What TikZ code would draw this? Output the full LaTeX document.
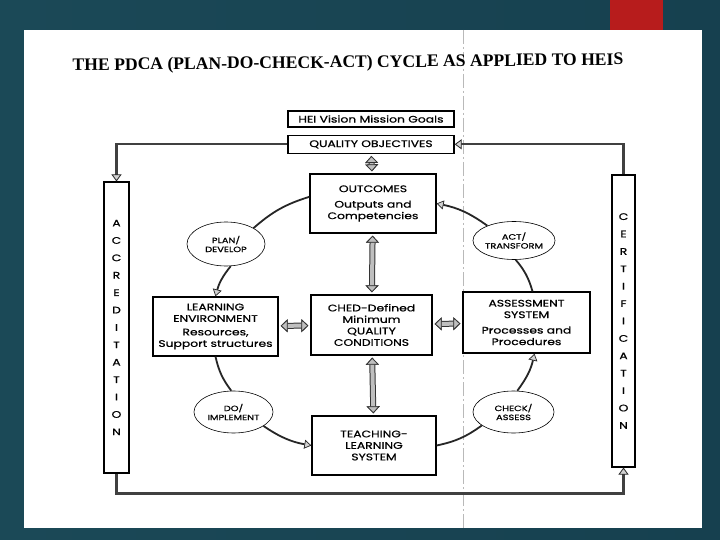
\documentclass[tikz,border=0pt]{standalone}
\usepackage{fontspec}
\setmainfont{Poppins}
\newfontfamily\diagfont[FakeStretch=1.3, FakeBold=0.8]{Poppins}
\newfontfamily\titlefont{Liberation Serif}
\usepackage{tikz}
\usetikzlibrary{arrows.meta, positioning, shapes.geometric}

\definecolor{slideleft}{HTML}{1B4957}
\definecolor{slidemid}{HTML}{2A6163}
\definecolor{slideright}{HTML}{16404F}
\definecolor{slidered}{HTML}{B71C1C}

\tikzset{
  box/.style={draw, line width=1.3pt, align=center, inner sep=1pt,
    font=\diagfont\fontsize{9.5}{11.5}\selectfont},
  oval/.style={ellipse, draw, line width=0.6pt, align=center, inner sep=0pt,
    font=\diagfont\fontsize{7.6}{9}\selectfont},
  letterbar/.style={draw, line width=1.1pt, align=center, inner sep=0pt,
    font=\diagfont\fontsize{9.5}{17.4}\selectfont},
  loopline/.style={line width=2.4pt, draw=black!75,
    -{Triangle[width=10pt,length=7pt,color=black!85,fill=gray!35,line width=0.8pt]}},
  cycleline/.style={line width=1.8pt, draw=black!85, bend right=12},
  cyclearrow/.style={cycleline,
    -{Triangle[width=9pt,length=7pt,color=black!85,fill=gray!35,line width=0.7pt]}},
  fatarrow/.style={line width=4pt, draw=gray!50, shorten >=2pt, shorten <=2pt,
    preaction={draw=black!80, line width=6pt},
    {Triangle[width=13pt,length=7pt,color=black!80,fill=gray!50,line width=0.8pt]}-{Triangle[width=13pt,length=7pt,color=black!80,fill=gray!50,line width=0.8pt]}},
  foldline/.style={draw=gray!55, line width=0.6pt, dash pattern=on 14pt off 3pt on 2pt off 3pt}
}

\begin{document}
\begin{tikzpicture}[x=1pt, y=-1pt]
  % slide
  \shade[left color=slideleft, middle color=slidemid, right color=slideright] (0,0) rectangle (720,540);
  \fill[slidered] (610,0) rectangle (663,30);
  \fill[white] (24,30) rectangle (702,528);
  \useasboundingbox (0,0) rectangle (720,540);
  \draw[foldline] (463,30) -- (463,528);

  \node[font=\titlefont\bfseries\fontsize{17.6}{19}\selectfont, rotate=0.6] (title) at (348,63.5)
    {THE PDCA (PLAN-DO-CHECK-ACT) CYCLE AS APPLIED TO HEIS};

  % top boxes
  \node[box, minimum width=166, minimum height=16] (hei) at (371,119) {HEI Vision Mission Goals};
  \node[box, minimum width=166, minimum height=18, below=7pt of hei] (qo) {QUALITY OBJECTIVES};

  % cycle boxes
  \node[box, minimum width=126, minimum height=59] (out) at (373,203.5)
    {OUTCOMES\\[4pt]Outputs and\\Competencies};
  \node[box, minimum width=125, minimum height=59] (le) at (215.5,326.5)
    {LEARNING\\ENVIRONMENT\\[2pt]Resources,\\Support structures};
  \node[box, minimum width=121, minimum height=60] (ched) at (371.5,325)
    {CHED-Defined\\Minimum\\QUALITY\\CONDITIONS};
  \node[box, minimum width=127, minimum height=61] (asys) at (526.5,322.5)
    {ASSESSMENT\\SYSTEM\\[4pt]Processes and\\Procedures};
  \node[box, minimum width=124, minimum height=59] (tls) at (374,445.5)
    {TEACHING-\\LEARNING\\SYSTEM};

  % ovals
  \node[oval, minimum width=78, minimum height=44] (plan) at (226,244) {PLAN/\\DEVELOP};
  \node[oval, minimum width=82, minimum height=38] (act) at (514,240.5) {ACT/\\TRANSFORM};
  \node[oval, minimum width=79, minimum height=42] (do) at (233.5,412) {DO/\\IMPLEMENT};
  \node[oval, minimum width=81, minimum height=42] (check) at (513.5,412) {CHECK/\\ASSESS};

  % side bars
  \node[letterbar, minimum width=25, minimum height=291] (accr) at (116.5,327.5)
    {A\\C\\C\\R\\E\\D\\I\\T\\A\\T\\I\\O\\N};
  \node[letterbar, minimum width=23, minimum height=292] (cert) at (623.5,321)
    {C\\E\\R\\T\\I\\F\\I\\C\\A\\T\\I\\O\\N};

  % outer loop
  \draw[loopline] (qo.west) -| (accr.north);
  \draw[loopline] (cert.north) |- (qo.east);
  \draw[loopline] (accr.south) -- ++(0,20) -| (cert.south);

  % PDCA cycle
  \draw[cycleline] (out.174) to (plan.30);
  \draw[cyclearrow] (plan.-78) to (le.north);
  \draw[cycleline] (le.south) to (do.96);
  \draw[cyclearrow] (do.-25) to (tls.west);
  \draw[cycleline] (tls.east) to (check.203);
  \draw[cyclearrow] (check.80) to ([xshift=8pt]asys.south);
  \draw[cycleline] ([xshift=6pt]asys.north) to (act.-85);
  \draw[cyclearrow] (act.151) to (out.east);

  % links to the quality conditions
  \draw[fatarrow] (qo) -- (out);
  \draw[fatarrow] (out) -- (ched);
  \draw[fatarrow] (ched) -- (tls);
  \draw[fatarrow] (le) -- (ched);
  \draw[fatarrow] (ched) -- (asys);
\end{tikzpicture}
\end{document}
